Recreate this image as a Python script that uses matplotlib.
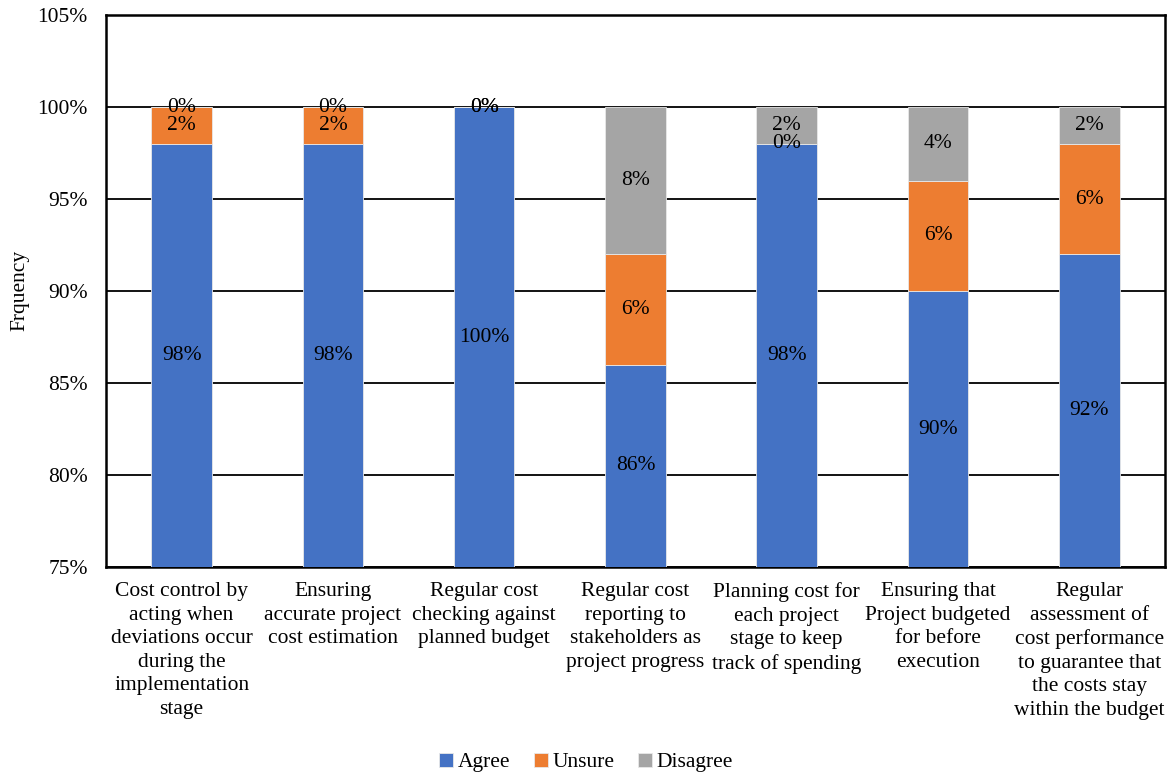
import matplotlib
matplotlib.use("Agg")
import matplotlib.pyplot as plt
import numpy as np

plt.rcParams['font.family'] = ['Liberation Serif', 'DejaVu Serif']

categories = [
    "Cost control by\nacting when\ndeviations occur\nduring the\nimplementation\nstage",
    "Ensuring\naccurate project\ncost estimation",
    "Regular cost\nchecking against\nplanned budget",
    "Regular cost\nreporting to\nstakeholders as\nproject progress",
    "Planning cost for\neach project\nstage to keep\ntrack of spending",
    "Ensuring that\nProject budgeted\nfor before\nexecution",
    "Regular\nassessment of\ncost performance\nto guarantee that\nthe costs stay\nwithin the budget",
]
agree = [98, 98, 100, 86, 98, 90, 92]
unsure = [2, 2, 0, 6, 0, 6, 6]
disagree = [0, 0, 0, 8, 2, 4, 2]

series = [("Agree", agree, "#4472C4"), ("Unsure", unsure, "#ED7D31"), ("Disagree", disagree, "#A5A5A5")]

FS = 15.5
fig = plt.figure(figsize=(11.72, 7.74), dpi=100)
ax = fig.add_axes([0.0904, 0.2674, 0.9036, 0.7132])

ymin, ymax = 75, 105
x = np.arange(len(categories))
bottom = np.zeros(len(categories))
for name, vals, col in series:
    vals = np.array(vals, dtype=float)
    ax.bar(x, vals, bottom=bottom, width=0.4, color=col, label=name, zorder=3,
           edgecolor='#e8e8e8', linewidth=0.6)
    for i in range(len(x)):
        lo = max(bottom[i], ymin)
        hi = min(bottom[i] + vals[i], ymax)
        yc = (lo + hi) / 2
        ax.text(x[i], yc, f"{int(vals[i])}%", ha='center', va='center', fontsize=FS, zorder=5)
    bottom = bottom + vals

ax.set_ylim(ymin, ymax)
ax.set_xlim(-0.5, len(categories) - 0.5)
ax.set_yticks(np.arange(75, 106, 5))
ax.set_yticklabels([f"{v}%" for v in range(75, 106, 5)], fontsize=FS)
ax.set_xticks(x)
ax.set_xticklabels(categories, fontsize=FS, linespacing=1.32)
ax.tick_params(axis='y', length=0, pad=13)
ax.tick_params(axis='x', length=0, pad=11)
ax.yaxis.grid(True, color='black', linewidth=1.3, zorder=0)
ax.set_axisbelow(True)
for s in ax.spines.values():
    s.set_linewidth(1.8)
    s.set_color('black')
fig.text(20 / 1172, 1 - 290 / 774, "Frquency", rotation=90, ha='center', va='center', fontsize=FS)

handles, labels = ax.get_legend_handles_labels()
fig.legend(handles, labels, loc='center', bbox_to_anchor=(0.5, 0.015), ncol=3, frameon=False,
           fontsize=FS, handlelength=0.65, handleheight=0.65, handletextpad=0.2, columnspacing=1.1)

fig.savefig("out.png", dpi=100)
